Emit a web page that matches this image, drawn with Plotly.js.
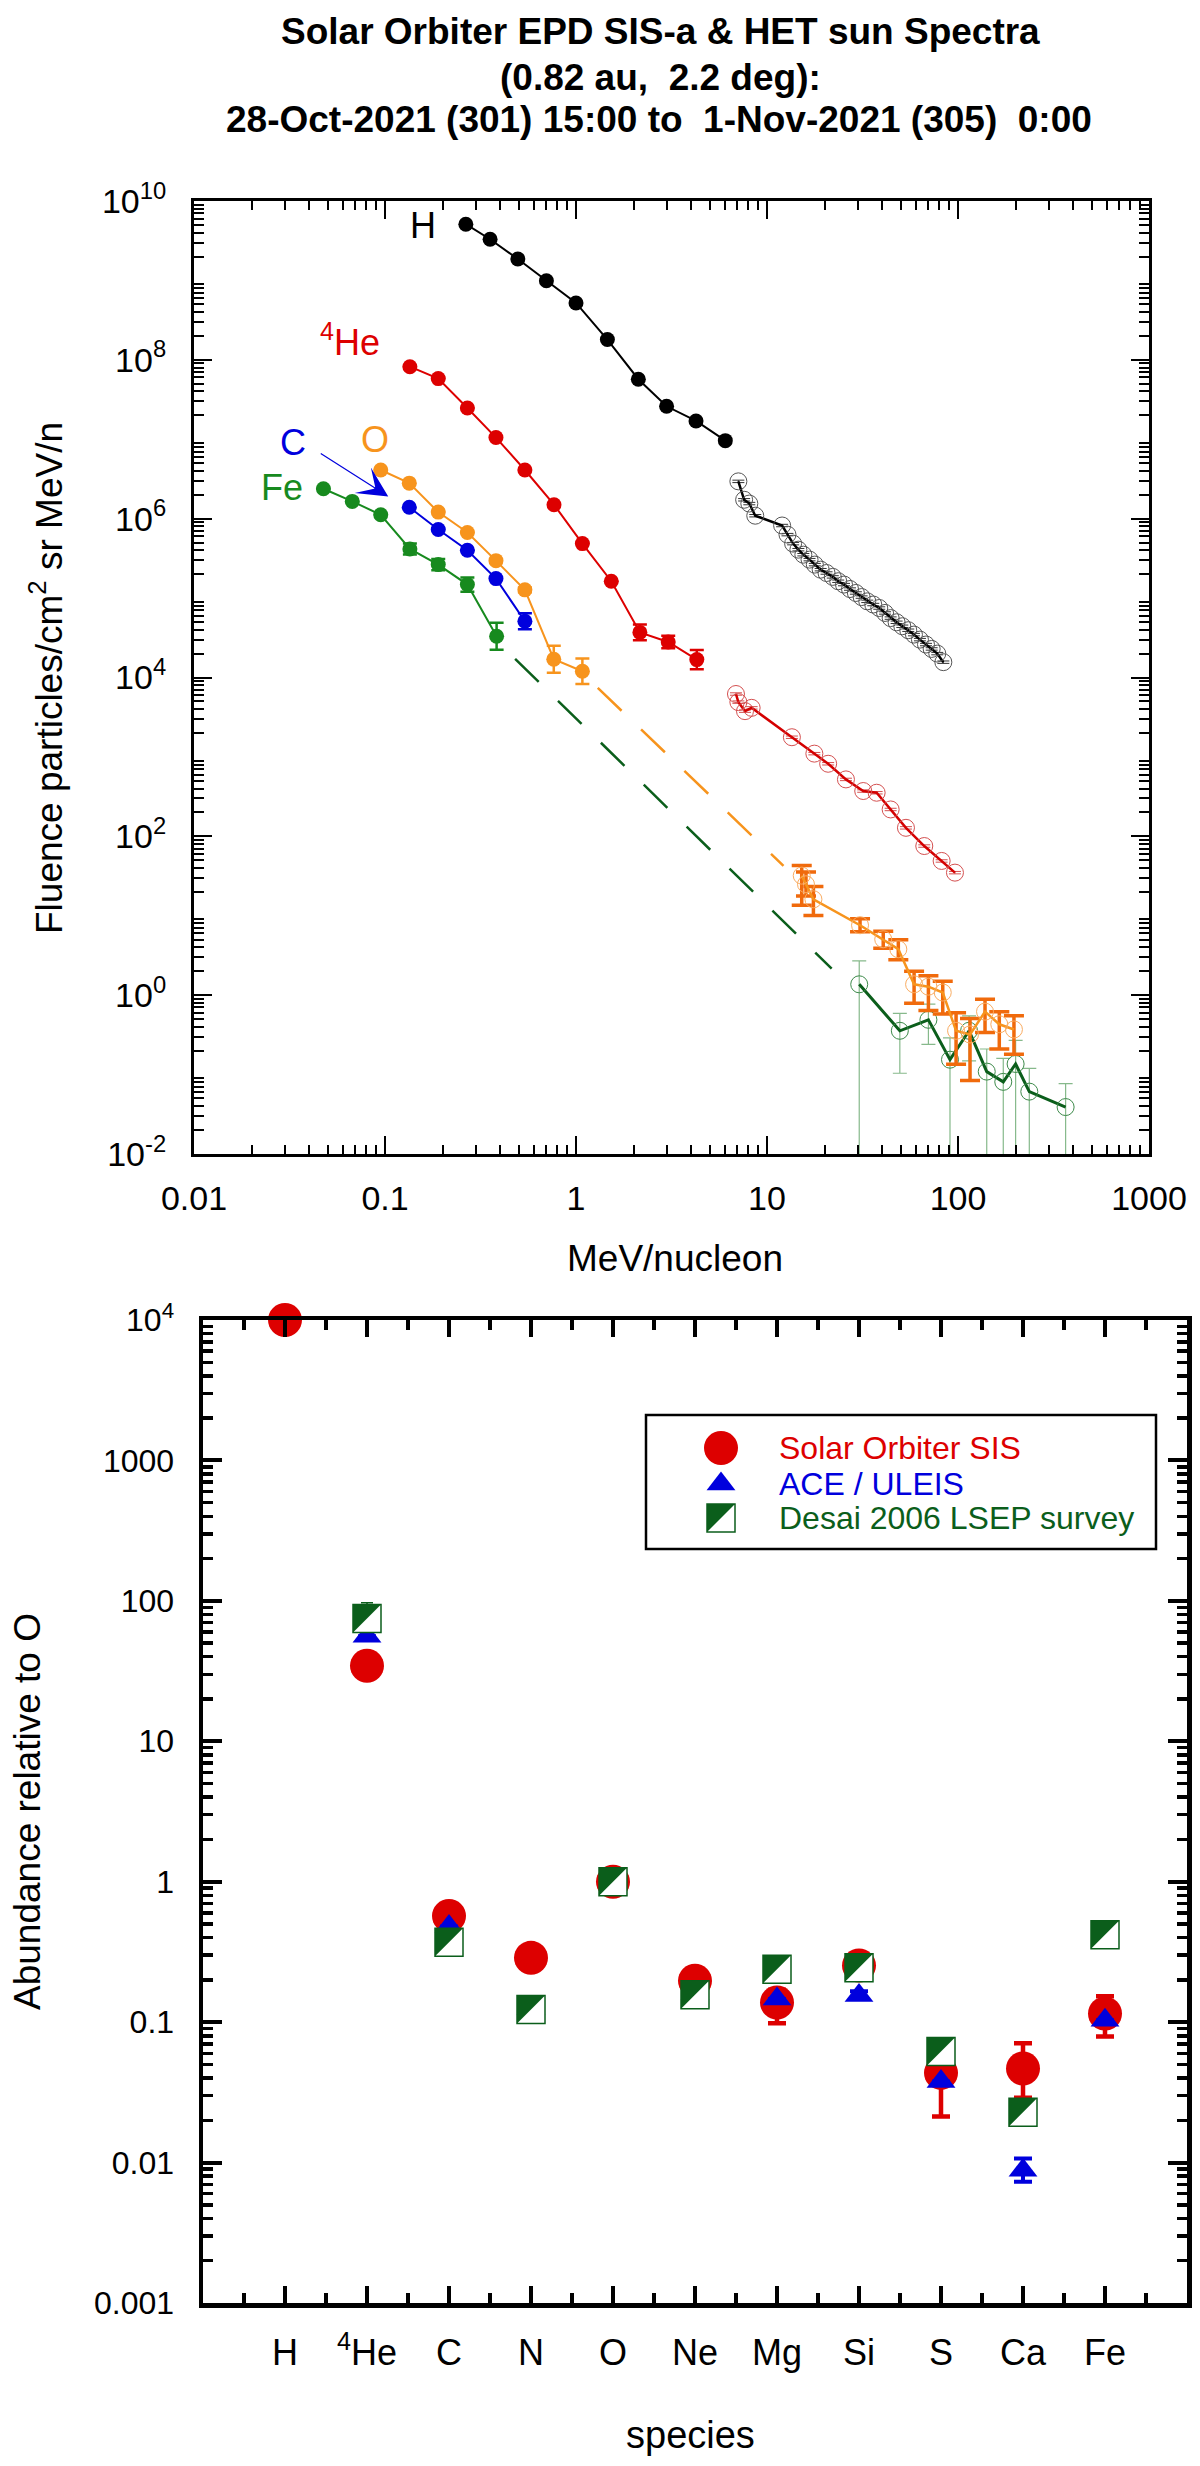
<!DOCTYPE html>
<html>
<head>
<meta charset="utf-8">
<script src="https://cdn.plot.ly/plotly-3.0.1.min.js"></script>
<style>body{margin:0;background:#fff}</style>
</head>
<body>
<div id="chart" style="width:1200px;height:2466px"></div>
<script>
/***** fluence spectra (top) *****/
var hSisE = [0.265, 0.355, 0.496, 0.70, 1.0, 1.46, 2.12, 2.98, 4.25, 6.05];
var hSisF = [5.1e9, 3.3e9, 1.86e9, 9.9e8, 5.2e8, 1.8e8, 5.7e7, 2.6e7, 1.7e7, 9.6e6];

var heSisE = [0.135, 0.190, 0.270, 0.381, 0.540, 0.767, 1.08, 1.53, 2.16, 3.04, 4.29];
var heSisF = [8.2e7, 5.8e7, 2.47e7, 1.05e7, 4.1e6, 1.5e6, 4.85e5, 1.63e5, 3.7e4, 2.8e4, 1.68e4];
var heSisErr = [0, 0, 0, 0, 0, 0, 0, 0, 0.10, 0.08, 0.12];   // dex

var oSisE = [0.095, 0.134, 0.190, 0.270, 0.381, 0.540, 0.765, 1.08];
var oSisF = [4.1e6, 2.8e6, 1.21e6, 6.7e5, 2.96e5, 1.27e5, 1.7e4, 1.2e4];
var oSisErr = [0, 0, 0, 0, 0, 0.03, 0.17, 0.16];

var cSisE = [0.134, 0.190, 0.270, 0.381, 0.540];
var cSisF = [1.39e6, 7.3e5, 4.0e5, 1.76e5, 5.1e4];
var cSisErr = [0, 0, 0, 0, 0.10];

var feSisE = [0.0476, 0.0674, 0.095, 0.135, 0.19, 0.27, 0.384];
var feSisF = [2.38e6, 1.65e6, 1.12e6, 4.15e5, 2.64e5, 1.48e5, 3.3e4];
var feSisErr = [0, 0, 0, 0.07, 0.07, 0.09, 0.17];

var hHetE = [7.08, 7.59, 8.08, 8.68, 12.0, 12.8, 13.7, 14.6, 15.5, 16.7, 17.8, 19.1, 20.5, 22.1, 23.6, 25.3, 27.2,
  29.2, 31.3, 33.5, 36.0, 38.7, 41.5, 44.4, 47.7, 51.1, 54.9, 58.8, 63.2, 68.0, 72.8, 77.9, 83.8];
var hHetF = [2.95e6, 1.73e6, 1.55e6, 1.09e6, 8.2e5, 6.3e5, 4.85e5, 4.07e5, 3.52e5, 3.05e5, 2.64e5, 2.28e5, 2.07e5,
  1.85e5, 1.63e5, 1.48e5, 1.30e5, 1.16e5, 1.03e5, 9.1e4, 8.3e4, 7.5e4, 6.5e4, 5.6e4, 4.96e4, 4.42e4, 3.94e4,
  3.47e4, 3.0e4, 2.6e4, 2.29e4, 2.0e4, 1.56e4];

var heHetE = [6.88, 7.08, 7.67, 8.31, 13.5, 17.7, 20.9, 25.9, 31.9, 37.5, 44.4, 53.4, 66.6, 82.1, 96.4];
var heHetF = [6.2e3, 4.9e3, 3.77e3, 4.15e3, 1.77e3, 1.1e3, 820, 521, 372, 354, 218, 128, 75.5, 49, 34.9];

var oHetE = [15.2, 16.0, 17.5, 30.7, 40.6, 48.7, 58.9, 70.0, 83.2, 97.7, 115.6, 138.5, 164.5, 196.3];
var oHetF = [32, 24.9, 16.1, 7.6, 5.06, 3.79, 1.37, 1.28, 1.08, 0.356, 0.32, 0.62, 0.43, 0.37];
var oHetLo = [13.6, 17.7, 10.1, 6.3, 3.9, 2.8, 0.79, 0.64, 0.58, 0.135, 0.084, 0.34, 0.21, 0.18];
var oHetHi = [43, 35.6, 23.3, 9.2, 6.4, 5.0, 2.0, 1.75, 1.5, 0.6, 0.51, 0.89, 0.62, 0.55];

var feHetE = [30.4, 49.6, 70.0, 90.8, 114.3, 141.4, 172.6, 200.3, 236.2, 366];
var feHetF = [1.37, 0.356, 0.49, 0.154, 0.356, 0.109, 0.081, 0.136, 0.061, 0.039];
var feHetLo = [0.001, 0.104, 0.24, 0.001, 0.149, 0.001, 0.001, 0.001, 0.001, 0.001];
var feHetHi = [2.7, 0.59, 0.77, 0.29, 0.55, 0.21, 0.16, 0.27, 0.12, 0.077];

// dashed bridges between SIS and HET
var oBridgeE = [1.30, 12.2];
var oBridgeF = [7.4e3, 42.4];
var feBridgeE = [0.48, 21.8];
var feBridgeF = [1.72e4, 2.16];

var topXTickVals = [0.01, 0.1, 1, 10, 100, 1000];
var topXTickText = ['0.01', '0.1', '1', '10', '100', '1000'];
var topYLabelExp = [-2, 0, 2, 4, 6, 8, 10];
var topYOddExp = [-1, 1, 3, 5, 7, 9];

/***** abundances (bottom) *****/
var species = ['H', '<sup>4</sup>He', 'C', 'N', 'O', 'Ne', 'Mg', 'Si', 'S', 'Ca', 'Fe'];
var speciesPos = [1, 2, 3, 4, 5, 6, 7, 8, 9, 10, 11];

var sisAbund = [1e4, 34.5, 0.57, 0.287, 1, 0.197, 0.138, 0.253, 0.0435, 0.0468, 0.115];
var sisLo = [null, null, null, null, null, null, 0.098, null, 0.0213, 0.029, 0.079];
var sisHi = [null, null, null, null, null, null, 0.17, null, 0.05, 0.0706, 0.153];

var aceAbund = [null, 56, 0.48, 0.125, 1, 0.16, 0.146, 0.155, 0.0378, 0.0088, 0.103];
var aceLo = [null, null, null, null, null, null, null, 0.146, null, 0.0073, null];
var aceHi = [null, null, null, null, null, null, null, 0.166, null, 0.0107, null];

var desaiAbund = [null, 75, 0.37, 0.123, 1, 0.157, 0.238, 0.244, 0.0617, 0.0228, 0.419];
var desaiHi = [null, 97, null, null, null, null, null, null, null, null, null];

var botYTickVals = [0.001, 0.01, 0.1, 1, 10, 100, 1000, 10000];
var botYTickText = ['0.001', '0.01', '0.1', '1', '10', '100', '1000', '10<sup>4</sup>'];

/***** geometry *****/
var W = 1200, H = 2466;
var topBox = {l: 194, r: 1149, t: 201, b: 1154};
var botBox = {l: 203, r: 1187, t: 1320, b: 2303};
var FONT = 'Liberation Sans, Arial, Helvetica, sans-serif';
var SQ = 28;   // Desai square marker size, px

function px(x) { return x / W; }
function py(y) { return 1 - y / H; }

function dexErr(vals, dex, up) {
  return vals.map(function (v, i) {
    return up ? v * (Math.pow(10, dex[i]) - 1) : v * (1 - Math.pow(10, -dex[i]));
  });
}
function boundErr(vals, bound, up) {
  return vals.map(function (v, i) {
    if (v === null || bound[i] === null) return 0;
    return up ? bound[i] - v : v - bound[i];
  });
}
function minorLog(e0, e1) {
  var out = [];
  for (var e = e0; e < e1; e++) {
    for (var k = 2; k <= 9; k++) out.push(k * Math.pow(10, e));
  }
  return out;
}
// upper-left dark half of each square marker, as polygons around the data points
function halfSquares(xs, ys, hx, yUp, yDown) {
  var ox = [], oy = [];
  xs.forEach(function (x, i) {
    var y = ys[i];
    if (y === null) return;
    ox.push(x - hx, x + hx, x - hx, x - hx, null);
    oy.push(yUp(y), yUp(y), yDown(y), yUp(y), null);
  });
  return {x: ox, y: oy};
}

var red = '#dd0000', blue = '#0000dd', orange = '#f7941d', green = '#178a1e', dkgreen = '#0b5e1b';

function sisTrace(x, y, err, color) {
  var t = {
    x: x, y: y, xaxis: 'x', yaxis: 'y', type: 'scatter', mode: 'lines+markers',
    line: {color: color, width: 2},
    marker: {color: color, size: 15},
    showlegend: false
  };
  if (err) {
    t.error_y = {type: 'data', array: dexErr(y, err, true), arrayminus: dexErr(y, err, false),
      color: color, thickness: 2.5, width: 7};
  }
  return t;
}

var pxPerUnitX = (botBox.r - botBox.l) / 12;
var pxPerDecY = (botBox.b - botBox.t) / 7;
var halfX = (SQ / 2) / pxPerUnitX;
var halfF = Math.pow(10, (SQ / 2) / pxPerDecY);
var desaiHalf = halfSquares(speciesPos, desaiAbund, halfX,
  function (v) { return v * halfF; }, function (v) { return v / halfF; });

var data = [
  {x: feBridgeE, y: feBridgeF, xaxis: 'x', yaxis: 'y', type: 'scatter', mode: 'lines',
    line: {color: dkgreen, width: 2.5, dash: '33px,27px'}, showlegend: false},
  {x: oBridgeE, y: oBridgeF, xaxis: 'x', yaxis: 'y', type: 'scatter', mode: 'lines',
    line: {color: orange, width: 2.5, dash: '33px,27px'}, showlegend: false},

  {x: feHetE, y: feHetF, xaxis: 'x', yaxis: 'y', type: 'scatter', mode: 'lines+markers',
    line: {color: dkgreen, width: 3},
    marker: {symbol: 'circle-open', size: 17, color: '#3d8a4a', line: {width: 1}},
    error_y: {type: 'data', array: boundErr(feHetF, feHetHi, true), arrayminus: boundErr(feHetF, feHetLo, false),
      color: '#86b98b', thickness: 1.2, width: 7},
    showlegend: false},
  {x: oHetE, y: oHetF, xaxis: 'x', yaxis: 'y', type: 'scatter', mode: 'lines+markers',
    line: {color: orange, width: 2.5},
    marker: {symbol: 'circle-open', size: 17, color: '#f9ac62', line: {width: 1}},
    error_y: {type: 'data', array: boundErr(oHetF, oHetHi, true), arrayminus: boundErr(oHetF, oHetLo, false),
      color: '#f06a0c', thickness: 3.5, width: 10},
    showlegend: false},
  {x: heHetE, y: heHetF, xaxis: 'x', yaxis: 'y', type: 'scatter', mode: 'lines+markers',
    line: {color: '#d40000', width: 2.5},
    marker: {symbol: 'circle-open', size: 17, color: '#d45050', line: {width: 1}},
    error_y: {type: 'percent', value: 3.5, color: '#d45050', thickness: 1, width: 6},
    showlegend: false},
  {x: hHetE, y: hHetF, xaxis: 'x', yaxis: 'y', type: 'scatter', mode: 'lines+markers',
    line: {color: '#000', width: 2.5},
    marker: {symbol: 'circle-open', size: 17, color: '#555', line: {width: 1}},
    error_y: {type: 'percent', value: 3.5, color: '#333', thickness: 1, width: 6},
    showlegend: false},

  sisTrace(feSisE, feSisF, feSisErr, green),
  sisTrace(cSisE, cSisF, cSisErr, blue),
  sisTrace(oSisE, oSisF, oSisErr, orange),
  sisTrace(heSisE, heSisF, heSisErr, red),
  sisTrace(hSisE, hSisF, null, '#000'),

  // abundances
  {x: speciesPos, y: sisAbund, xaxis: 'x2', yaxis: 'y2', type: 'scatter', mode: 'markers',
    marker: {color: red, size: 34},
    error_y: {type: 'data', array: boundErr(sisAbund, sisHi, true), arrayminus: boundErr(sisAbund, sisLo, false),
      color: red, thickness: 4.5, width: 9},
    cliponaxis: false, showlegend: false},
  {x: speciesPos, y: aceAbund, xaxis: 'x2', yaxis: 'y2', type: 'scatter', mode: 'markers',
    marker: {color: blue, size: 25, symbol: 'triangle-up'},
    error_y: {type: 'data', array: boundErr(aceAbund, aceHi, true), arrayminus: boundErr(aceAbund, aceLo, false),
      color: blue, thickness: 4, width: 9},
    showlegend: false},
  {x: speciesPos, y: desaiAbund, xaxis: 'x2', yaxis: 'y2', type: 'scatter', mode: 'markers',
    marker: {color: '#fff', size: SQ, symbol: 'square', line: {color: dkgreen, width: 1.5}},
    error_y: {type: 'data', array: boundErr(desaiAbund, desaiHi, true), arrayminus: desaiAbund.map(function () { return 0; }),
      color: dkgreen, thickness: 1.5, width: 6},
    showlegend: false},
  {x: desaiHalf.x, y: desaiHalf.y, xaxis: 'x2', yaxis: 'y2', type: 'scatter', mode: 'lines',
    fill: 'toself', fillcolor: dkgreen, line: {width: 0, color: dkgreen}, connectgaps: false, showlegend: false}
];

// legend symbols on a pixel-space axis (x right, y down)
var legX = 721, legRows = [1448, 1484, 1518];
var legHalf = halfSquares([legX], [legRows[2]], SQ / 2,
  function (v) { return v - SQ / 2; }, function (v) { return v + SQ / 2; });
data.push(
  {x: [legX], y: [legRows[0]], xaxis: 'x4', yaxis: 'y4', type: 'scatter', mode: 'markers',
    marker: {color: red, size: 34}, showlegend: false},
  {x: [legX], y: [legRows[1]], xaxis: 'x4', yaxis: 'y4', type: 'scatter', mode: 'markers',
    marker: {color: blue, size: 25, symbol: 'triangle-up'}, showlegend: false},
  {x: [legX], y: [legRows[2]], xaxis: 'x4', yaxis: 'y4', type: 'scatter', mode: 'markers',
    marker: {color: '#fff', size: SQ, symbol: 'square', line: {color: dkgreen, width: 1.5}}, showlegend: false},
  {x: legHalf.x, y: legHalf.y, xaxis: 'x4', yaxis: 'y4', type: 'scatter', mode: 'lines',
    fill: 'toself', fillcolor: dkgreen, line: {width: 0, color: dkgreen}, showlegend: false}
);

var topYTickVals = topYLabelExp.map(function (e) { return Math.pow(10, e); });
var topYTickText = topYLabelExp.map(function (e) { return '10<sup>' + e + '</sup>'; });
var topYOddVals = topYOddExp.map(function (e) { return Math.pow(10, e); });

function frameAxis(extra) {
  var a = {
    showline: true, linecolor: '#000', mirror: 'allticks', ticks: 'inside', tickcolor: '#000',
    showgrid: false, zeroline: false, tickmode: 'array'
  };
  for (var k in extra) a[k] = extra[k];
  return a;
}

var layout = {
  width: W, height: H,
  margin: {l: 0, r: 0, t: 0, b: 0},
  paper_bgcolor: '#fff', plot_bgcolor: 'rgba(0,0,0,0)',
  showlegend: false,
  font: {family: FONT, color: '#000'},
  xaxis: frameAxis({
    domain: [px(topBox.l), px(topBox.r)], anchor: 'y', type: 'log', range: [-2, 3],
    tickvals: topXTickVals, ticktext: topXTickText, ticklen: 18, tickwidth: 2, linewidth: 3,
    tickfont: {family: FONT, size: 34, color: '#000'}, ticklabelstandoff: 12,
    minor: {tickmode: 'array', tickvals: minorLog(-2, 3), ticks: 'inside', ticklen: 9, tickwidth: 2, tickcolor: '#000', showgrid: false}
  }),
  yaxis: frameAxis({
    domain: [py(topBox.b), py(topBox.t)], anchor: 'x', type: 'log', range: [-2, 10],
    tickvals: topYTickVals, ticktext: topYTickText, ticklen: 18, tickwidth: 2, linewidth: 3,
    tickfont: {family: FONT, size: 34, color: '#000'}, ticklabelstandoff: 18,
    minor: {tickmode: 'array', tickvals: minorLog(-2, 10), ticks: 'inside', ticklen: 10, tickwidth: 2, tickcolor: '#000', showgrid: false}
  }),
  // unlabelled odd-decade major ticks of the top chart
  yaxis5: frameAxis({
    overlaying: 'y', anchor: 'x', type: 'log', range: [-2, 10],
    tickvals: topYOddVals, ticklen: 18, tickwidth: 2, linewidth: 3, showticklabels: false
  }),
  xaxis2: frameAxis({
    domain: [px(botBox.l), px(botBox.r)], anchor: 'y2', range: [0, 12],
    tickvals: speciesPos, ticktext: species, ticklen: 17, tickwidth: 4, linewidth: 4.5,
    tickfont: {family: FONT, size: 36, color: '#000'}, ticklabelstandoff: 14,
    minor: {tickmode: 'array', tickvals: [0.5, 1.5, 2.5, 3.5, 4.5, 5.5, 6.5, 7.5, 8.5, 9.5, 10.5, 11.5],
      ticks: 'inside', ticklen: 10, tickwidth: 4, tickcolor: '#000', showgrid: false}
  }),
  yaxis2: frameAxis({
    domain: [py(botBox.b), py(botBox.t)], anchor: 'x2', type: 'log', range: [-3, 4],
    tickvals: botYTickVals, ticktext: botYTickText, ticklen: 19, tickwidth: 4, linewidth: 4.5,
    tickfont: {family: FONT, size: 32, color: '#000'}, ticklabelstandoff: 18,
    minor: {tickmode: 'array', tickvals: minorLog(-3, 4), ticks: 'inside', ticklen: 10, tickwidth: 3.5, tickcolor: '#000', showgrid: false}
  }),
  xaxis4: {domain: [0, 1], anchor: 'y4', range: [0, W], visible: false},
  yaxis4: {domain: [0, 1], anchor: 'x4', range: [H, 0], visible: false},
  shapes: [
    {type: 'rect', xref: 'paper', yref: 'paper', x0: px(646), x1: px(1156), y0: py(1549), y1: py(1415),
      line: {color: '#000', width: 2.5}, fillcolor: 'rgba(0,0,0,0)'}
  ],
  annotations: []
};

var ann = layout.annotations;
function label(text, x, y, size, color, extra) {
  var a = {text: text, xref: 'paper', yref: 'paper', x: px(x), y: py(y), xanchor: 'center', yanchor: 'middle',
    showarrow: false, font: {family: FONT, size: size, color: color || '#000'}};
  for (var k in extra || {}) a[k] = extra[k];
  ann.push(a);
}

label('<b>Solar Orbiter EPD SIS-a &amp; HET sun Spectra</b>', 660, 31, 37);
label('<b>(0.82 au,\u00a0 2.2 deg):</b>', 660, 77, 37);
label('<b>28-Oct-2021 (301) 15:00 to\u00a0 1-Nov-2021 (305)\u00a0 0:00</b>', 659, 119, 37);

label('Fluence particles/cm<sup>2</sup> sr MeV/n', 46, 678, 37, '#000', {textangle: -90});
label('MeV/nucleon', 675, 1258, 37);
label('Abundance relative to O', 27, 1812, 37, '#000', {textangle: -90});
label('species', 690, 2435, 38);

label('H', 423, 226, 36, '#000');
label('<sup>4</sup>He', 350, 340, 36, red);
label('C', 293, 443, 36, blue);
label('O', 375, 439, 36, orange);
label('Fe', 282, 487, 36, green);

label('Solar Orbiter SIS', 777, legRows[0], 32, red, {xanchor: 'left'});
label('ACE / ULEIS', 777, legRows[1], 32, blue, {xanchor: 'left'});
label('Desai 2006 LSEP survey', 777, legRows[2], 32, dkgreen, {xanchor: 'left'});

// arrow from the C label to the C spectrum
ann.push({text: '', xref: 'x', yref: 'y', x: Math.log10(0.104), y: Math.log10(1.9e6),
  showarrow: true, ax: -69, ay: -44, arrowcolor: blue, arrowwidth: 1.2, arrowhead: 3, arrowsize: 4.2});

Plotly.newPlot('chart', data, layout, {staticPlot: true, displayModeBar: false});
</script>
</body>
</html>
